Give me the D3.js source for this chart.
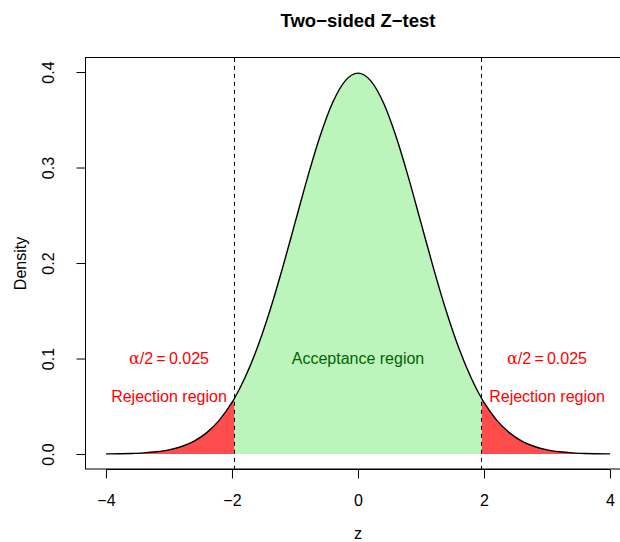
<!DOCTYPE html>
<meta charset="utf-8">
<style>
body { margin: 0; background: #fff; }
svg text { font-family: "Liberation Sans", Arial, sans-serif; }
.axis text { font-size: 16px; fill: #000; }
.axis line { stroke: #000; }
</style>
<svg width="620" height="542"></svg>
<script src="https://d3js.org/d3.v7.min.js"></script>
<script>
// standard normal density
var zVals = [-4.0, -3.8, -3.6, -3.4, -3.2, -3.0, -2.8, -2.6, -2.4, -2.2, -2.0, -1.96,
    -1.8, -1.6, -1.4, -1.2, -1.0, -0.8, -0.6, -0.4, -0.2, 0.0, 0.2, 0.4, 0.6, 0.8,
    1.0, 1.2, 1.4, 1.6, 1.8, 1.96, 2.0, 2.2, 2.4, 2.6, 2.8, 3.0, 3.2, 3.4, 3.6, 3.8, 4.0];
var density = [0.0001, 0.0003, 0.0006, 0.0012, 0.0024, 0.0044, 0.0079, 0.0136, 0.0224, 0.0355, 0.0540, 0.0584,
    0.0790, 0.1109, 0.1497, 0.1942, 0.2420, 0.2897, 0.3332, 0.3683, 0.3910, 0.3989, 0.3910, 0.3683, 0.3332, 0.2897,
    0.2420, 0.1942, 0.1497, 0.1109, 0.0790, 0.0584, 0.0540, 0.0355, 0.0224, 0.0136, 0.0079, 0.0044, 0.0024, 0.0012, 0.0006, 0.0003, 0.0001];
var critical = [-1.96, 1.96];
var xTicks = [-4, -2, 0, 2, 4];
var yTicks = [0.0, 0.1, 0.2, 0.3, 0.4];

var pts = zVals.map(function(z, i) { return {z: z, d: density[i]}; });

var svg = d3.select("svg");

var x = d3.scaleLinear().domain([-4.32, 4.32]).range([85.8, 630.2]);
var y = d3.scaleLinear().domain([-0.016, 0.4149]).range([469.3, 57.8]);

var area = d3.area()
    .curve(d3.curveMonotoneX)
    .x(function(d) { return x(d.z); })
    .y0(y(0))
    .y1(function(d) { return y(d.d); });

var line = d3.line()
    .curve(d3.curveMonotoneX)
    .x(function(d) { return x(d.z); })
    .y(function(d) { return y(d.d); });

// fills
svg.append("path")
    .datum(pts.filter(function(d) { return d.z <= critical[0]; }))
    .attr("d", area).attr("fill", "#FF4D4D");
svg.append("path")
    .datum(pts.filter(function(d) { return d.z >= critical[1]; }))
    .attr("d", area).attr("fill", "#FF4D4D");
svg.append("path")
    .datum(pts.filter(function(d) { return d.z >= critical[0] && d.z <= critical[1]; }))
    .attr("d", area).attr("fill", "#BCF5BC");

// density curve
svg.append("path")
    .datum(pts)
    .attr("d", line)
    .attr("fill", "none")
    .attr("stroke", "#000")
    .attr("stroke-width", 1.4);

// critical lines
svg.selectAll(".crit")
    .data(critical)
    .enter().append("line")
    .attr("x1", function(d) { return x(d); })
    .attr("x2", function(d) { return x(d); })
    .attr("y1", y.range()[1])
    .attr("y2", y.range()[0])
    .attr("stroke", "#000")
    .attr("stroke-width", 1)
    .attr("stroke-dasharray", "4,4");

// box
svg.append("rect")
    .attr("x", 85.5).attr("y", 57.5)
    .attr("width", 544.5).attr("height", 411.5)
    .attr("fill", "none").attr("stroke", "#000");

// axes
var fmtX = function(d) { return d < 0 ? "\u2212" + Math.abs(d) : String(d); };
var gx = svg.append("g")
    .attr("class", "axis")
    .attr("transform", "translate(0,469.5)")
    .call(d3.axisBottom(x).tickValues(xTicks).tickSize(9).tickPadding(16).tickFormat(fmtX));
gx.select(".domain").remove();
gx.append("line")
    .attr("x1", x(-4)).attr("x2", x(4))
    .attr("stroke", "#000");

var gy = svg.append("g")
    .attr("class", "axis")
    .attr("transform", "translate(85.5,0)")
    .call(d3.axisLeft(y).tickValues(yTicks).tickSize(9).tickFormat(d3.format(".1f")));
gy.select(".domain").remove();
gy.append("line")
    .attr("y1", y(0)).attr("y2", y(0.4))
    .attr("stroke", "#000");
gy.selectAll("text")
    .attr("x", 0).attr("dy", 0)
    .attr("text-anchor", "middle")
    .attr("transform", "translate(-32,0) rotate(-90)");

// titles
svg.append("text")
    .attr("x", 358).attr("y", 26.5)
    .attr("text-anchor", "middle")
    .style("font-size", "18.5px").style("font-weight", "bold")
    .text("Two\u2212sided Z\u2212test");
svg.append("text")
    .attr("x", 358).attr("y", 539)
    .attr("text-anchor", "middle")
    .style("font-size", "16px")
    .text("z");
svg.append("text")
    .attr("transform", "translate(26,263.5) rotate(-90)")
    .attr("text-anchor", "middle")
    .style("font-size", "16px")
    .text("Density");

// annotations
var alphaLab = svg.selectAll(".alpha")
    .data([-3, 3])
    .enter().append("text")
    .attr("x", function(d) { return x(d); })
    .attr("y", y(0.1))
    .attr("dy", "0.35em")
    .attr("text-anchor", "middle")
    .attr("fill", "red")
    .style("font-size", "16px");
alphaLab.append("tspan").style("font-family", "'DejaVu Serif', serif").text("\u03b1");
alphaLab.append("tspan").text("/2\u2009=\u20090.025");

svg.selectAll(".rej")
    .data([-3, 3])
    .enter().append("text")
    .attr("x", function(d) { return x(d); })
    .attr("y", y(0.06))
    .attr("dy", "0.35em")
    .attr("text-anchor", "middle")
    .attr("fill", "red")
    .style("font-size", "16px")
    .text("Rejection region");

svg.append("text")
    .attr("x", x(0))
    .attr("y", y(0.1))
    .attr("dy", "0.35em")
    .attr("text-anchor", "middle")
    .attr("fill", "#006400")
    .style("font-size", "16px")
    .text("Acceptance region");
</script>
